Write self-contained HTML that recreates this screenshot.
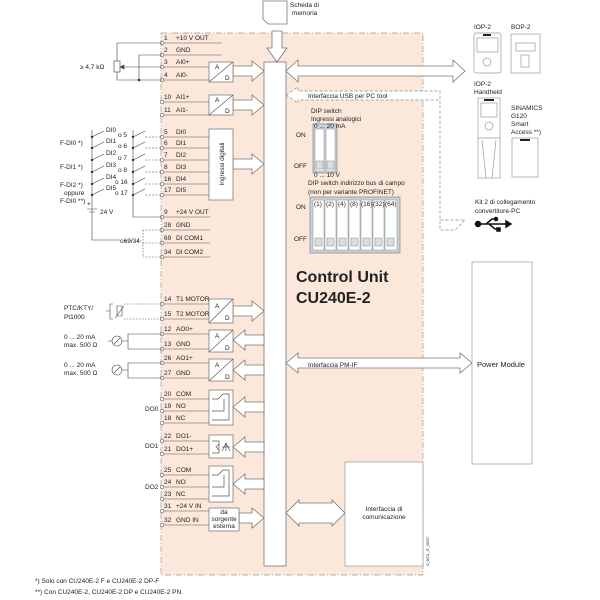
<!DOCTYPE html>
<html><head><meta charset="utf-8"><style>
html,body{margin:0;padding:0;background:#fff}
svg{display:block;font-family:"Liberation Sans",sans-serif}
text{font-size:6.5px;fill:#222}
</style></head><body>
<svg width="600" height="600" viewBox="0 0 600 600" xmlns="http://www.w3.org/2000/svg">
<rect x="161" y="33" width="262" height="542" fill="#fbe8da" stroke="#999" stroke-width="0.7" stroke-dasharray="6,2,1,2"/>
<!-- bus -->
<rect x="264" y="62" width="22" height="504" fill="#fff" stroke="#777" stroke-width="0.8"/>
<!-- memory card -->
<polygon points="263,1 287,1 287,24 268,24 263,19" fill="#fff" stroke="#777" stroke-width="0.8"/>
<text x="290" y="7">Scheda di</text><text x="292" y="15">memoria</text>
<polygon points="272,31 282,31 282,48 287,48 277,62 267,48 272,48" fill="#fff" stroke="#777" stroke-width="0.8"/>
<g fill="#fff" stroke="#777" stroke-width="0.8">
<!-- right arrows to bus -->
<polygon points="233,66 252,66 252,61 264,71 252,81 252,76 233,76"/>
<polygon points="233,100 252,100 252,95 264,105 252,115 252,110 233,110"/>
<polygon points="233,159 252,159 252,154 264,164 252,174 252,169 233,169"/>
<polygon points="233,306 252,306 252,301 264,311 252,321 252,316 233,316"/>
<polygon points="239,513 252,513 252,508 264,518 252,528 252,523 239,523"/>
<!-- left arrows -->
<polygon points="264,335 245,335 245,330 233,340 245,350 245,345 264,345"/>
<polygon points="264,365 245,365 245,360 233,370 245,380 245,375 264,375"/>
<polygon points="264,402 245,402 245,397 233,407 245,417 245,412 264,412"/>
<polygon points="264,442 245,442 245,437 233,447 245,457 245,452 264,452"/>
<polygon points="264,479 245,479 245,474 233,484 245,494 245,489 264,489"/>
<!-- double arrows -->
<polygon points="286,71 298,60 298,66 453,66 453,60 465,71 453,82 453,76 298,76 298,82"/>
<polygon points="286,363 298,353 298,358 460,358 460,353 472,363 460,373 460,368 298,368 298,373"/>
<polygon points="286,513 299,500 299,503 332,503 332,500 345,513 332,526 332,523 299,523 299,526"/>
</g>
<!-- dashed USB arrow -->
<polygon points="286,95 298,87 298,91 440,91 440,220 465,220 455,230 440,230 440,100 298,100 298,103" fill="#fff" stroke="#888" stroke-width="0.7" stroke-dasharray="3,2"/>
<text x="308" y="98">Interfaccia USB per PC tool</text>
<text x="308" y="367">Interfaccia PM-IF</text>
<!-- terminal lines -->
<g stroke="#555" stroke-width="0.6" fill="#fff">
<line x1="162" y1="43" x2="222" y2="43"/><line x1="162" y1="55" x2="222" y2="55"/>
<line x1="162" y1="67" x2="210" y2="67"/><line x1="162" y1="80" x2="210" y2="80"/>
<line x1="162" y1="102" x2="210" y2="102"/><line x1="162" y1="115" x2="210" y2="115"/>
<line x1="162" y1="137" x2="210" y2="137"/><line x1="162" y1="148" x2="210" y2="148"/>
<line x1="162" y1="160" x2="210" y2="160"/><line x1="162" y1="172" x2="210" y2="172"/>
<line x1="162" y1="184" x2="210" y2="184"/><line x1="162" y1="195" x2="210" y2="195"/>
<line x1="162" y1="217" x2="210" y2="217"/><line x1="162" y1="230" x2="210" y2="230"/>
<line x1="162" y1="243" x2="210" y2="243"/><line x1="162" y1="257" x2="210" y2="257"/>
<line x1="162" y1="304" x2="210" y2="304"/><line x1="162" y1="319" x2="210" y2="319"/>
<line x1="162" y1="334" x2="210" y2="334"/><line x1="162" y1="349" x2="210" y2="349"/>
<line x1="162" y1="363" x2="210" y2="363"/><line x1="162" y1="378" x2="210" y2="378"/>
<line x1="162" y1="399" x2="210" y2="399"/><line x1="162" y1="411" x2="210" y2="411"/>
<line x1="162" y1="423" x2="210" y2="423"/><line x1="162" y1="441" x2="210" y2="441"/>
<line x1="162" y1="454" x2="210" y2="454"/><line x1="162" y1="475" x2="210" y2="475"/>
<line x1="162" y1="487" x2="210" y2="487"/><line x1="162" y1="499" x2="210" y2="499"/>
<line x1="162" y1="511" x2="210" y2="511"/><line x1="162" y1="525" x2="210" y2="525"/>
<g>
<circle cx="162" cy="43" r="1.8"/><circle cx="162" cy="55" r="1.8"/><circle cx="162" cy="67" r="1.8"/><circle cx="162" cy="80" r="1.8"/>
<circle cx="162" cy="102" r="1.8"/><circle cx="162" cy="115" r="1.8"/><circle cx="162" cy="137" r="1.8"/><circle cx="162" cy="148" r="1.8"/>
<circle cx="162" cy="160" r="1.8"/><circle cx="162" cy="172" r="1.8"/><circle cx="162" cy="184" r="1.8"/><circle cx="162" cy="195" r="1.8"/>
<circle cx="162" cy="217" r="1.8"/><circle cx="162" cy="230" r="1.8"/><circle cx="162" cy="243" r="1.8"/><circle cx="162" cy="257" r="1.8"/>
<circle cx="162" cy="304" r="1.8"/><circle cx="162" cy="319" r="1.8"/><circle cx="162" cy="334" r="1.8"/><circle cx="162" cy="349" r="1.8"/>
<circle cx="162" cy="363" r="1.8"/><circle cx="162" cy="378" r="1.8"/><circle cx="162" cy="399" r="1.8"/><circle cx="162" cy="411" r="1.8"/>
<circle cx="162" cy="423" r="1.8"/><circle cx="162" cy="441" r="1.8"/><circle cx="162" cy="454" r="1.8"/><circle cx="162" cy="475" r="1.8"/>
<circle cx="162" cy="487" r="1.8"/><circle cx="162" cy="499" r="1.8"/><circle cx="162" cy="511" r="1.8"/><circle cx="162" cy="525" r="1.8"/>
</g>
<!-- boxes -->
<rect x="209" y="62" width="24" height="20"/><line x1="209" y1="82" x2="233" y2="62"/>
<rect x="209" y="95" width="24" height="20"/><line x1="209" y1="115" x2="233" y2="95"/>
<rect x="209" y="129" width="24" height="71"/>
<rect x="209" y="299" width="24" height="24"/><line x1="209" y1="323" x2="233" y2="299"/>
<rect x="209" y="330" width="24" height="22"/><line x1="209" y1="352" x2="233" y2="330"/>
<rect x="209" y="359" width="24" height="22"/><line x1="209" y1="381" x2="233" y2="359"/>
<rect x="209" y="390" width="24" height="35"/>
<rect x="209" y="435" width="24" height="23"/>
<rect x="209" y="466" width="24" height="36"/>
<rect x="209" y="508" width="30" height="23"/>
<rect x="345" y="462" width="78" height="104" stroke="#888"/>
<rect x="472" y="262" width="60" height="202" stroke="#888"/>
</g>
<!-- relay symbols -->
<g stroke="#555" stroke-width="0.7" fill="none">
<path d="M212,399 h6 l5,-5 h6 v26 h-17"/><path d="M212,411 h12 v-12"/>
<path d="M212,475 h6 l5,-5 h6 v26 h-17"/><path d="M212,487 h12 v-12"/>
<path d="M212,441 h7 v12 h-7 M219,444 l-3,3 l3,3 M222,447 h8 M226,443 v8 M222,451 l4,-8 l4,8"/>
</g>
<g font-size="6.5">
<text x="215" y="69">A</text><text x="225" y="80">D</text>
<text x="215" y="102">A</text><text x="225" y="113">D</text>
<text x="215" y="308">A</text><text x="225" y="320">D</text>
<text x="215" y="338">A</text><text x="225" y="350">D</text>
<text x="215" y="367">A</text><text x="225" y="379">D</text>
<text x="224" y="514" text-anchor="middle">da</text><text x="224" y="521" text-anchor="middle">sorgente</text><text x="224" y="528" text-anchor="middle">esterna</text>
<text transform="translate(224,164) rotate(-90)" text-anchor="middle">Ingressi digitali</text>
<!-- terminal labels -->
<text x="164" y="40">1</text><text x="176" y="40">+10 V OUT</text>
<text x="164" y="52">2</text><text x="176" y="52">GND</text>
<text x="164" y="64">3</text><text x="176" y="64">AI0+</text>
<text x="164" y="77">4</text><text x="176" y="77">AI0-</text>
<text x="164" y="99">10</text><text x="176" y="99">AI1+</text>
<text x="164" y="112">11</text><text x="176" y="112">AI1-</text>
<text x="164" y="134">5</text><text x="176" y="134">DI0</text>
<text x="164" y="145">6</text><text x="176" y="145">DI1</text>
<text x="164" y="157">7</text><text x="176" y="157">DI2</text>
<text x="164" y="169">8</text><text x="176" y="169">DI3</text>
<text x="164" y="181">16</text><text x="176" y="181">DI4</text>
<text x="164" y="192">17</text><text x="176" y="192">DI5</text>
<text x="164" y="214">9</text><text x="176" y="214">+24 V OUT</text>
<text x="164" y="227">28</text><text x="176" y="227">GND</text>
<text x="164" y="240">69</text><text x="176" y="240">DI COM1</text>
<text x="164" y="254">34</text><text x="176" y="254">DI COM2</text>
<text x="164" y="301">14</text><text x="176" y="301">T1 MOTOR</text>
<text x="164" y="316">15</text><text x="176" y="316">T2 MOTOR</text>
<text x="164" y="331">12</text><text x="176" y="331">AO0+</text>
<text x="164" y="346">13</text><text x="176" y="346">GND</text>
<text x="164" y="360">26</text><text x="176" y="360">AO1+</text>
<text x="164" y="375">27</text><text x="176" y="375">GND</text>
<text x="164" y="396">20</text><text x="176" y="396">COM</text>
<text x="164" y="408">19</text><text x="176" y="408">NO</text>
<text x="164" y="420">18</text><text x="176" y="420">NC</text>
<text x="164" y="438">22</text><text x="176" y="438">DO1-</text>
<text x="164" y="451">21</text><text x="176" y="451">DO1+</text>
<text x="164" y="472">25</text><text x="176" y="472">COM</text>
<text x="164" y="484">24</text><text x="176" y="484">NO</text>
<text x="164" y="496">23</text><text x="176" y="496">NC</text>
<text x="164" y="508">31</text><text x="176" y="508">+24 V IN</text>
<text x="164" y="522">32</text><text x="176" y="522">GND IN</text>
<text x="145" y="411">DO0</text><text x="145" y="448">DO1</text><text x="145" y="489">DO2</text>
</g>
<!-- left wiring -->
<g stroke="#444" stroke-width="0.6" fill="none">
<path d="M162,43 H117 V61 M117,71 V80 H162 M162,55 H139 V80"/>
<rect x="114" y="61" width="6" height="11" fill="#fff"/>
<path d="M162,67 H122"/><polygon points="120,67 124,65 124,69" fill="#444"/>
<path d="M92,130 V240 H120" /><path d="M133,130 V217 H162"/>
<path d="M92,137 l12,-6 M92,148 l12,-6 M92,160 l12,-6 M92,172 l12,-6 M92,184 l12,-6 M92,195 l12,-6"/>
<path d="M133,137 l12,-6 M133,148 l12,-6 M133,160 l12,-6 M133,172 l12,-6 M133,184 l12,-6 M133,195 l12,-6"/>
<path d="M145,137 H162 M145,148 H162 M145,160 H162 M145,172 H162 M145,184 H162 M145,195 H162" stroke-dasharray="2,1.5"/>
<path d="M143,230 H162 M143,230 V257 H162 M143,243 H162 M125,241 H143" stroke-dasharray="1.5,1.5"/>
<path d="M87,209 h10 M89,212 h6"/>
<path d="M113,304 h-3 v15 h3 M110,311 h-4 M117,306 v10 h5 v-10 z M115,318 l9,-12"/>
<circle cx="117" cy="341" r="5"/><path d="M114,344 l6,-6"/><path d="M122,341 H128 V334 H162 M128,341 V349 H162 M112,341 H108"/>
<circle cx="117" cy="370" r="5"/><path d="M114,373 l6,-6"/><path d="M122,370 H128 V363 H162 M128,370 V378 H162"/>
<path d="M124,304 H162 M124,319 H162" stroke-dasharray="1.5,1.5"/>
</g>
<g fill="#333"><circle cx="139" cy="80" r="1.3"/>
<circle cx="92" cy="137" r="1.2"/><circle cx="92" cy="148" r="1.2"/><circle cx="92" cy="160" r="1.2"/><circle cx="92" cy="172" r="1.2"/><circle cx="92" cy="184" r="1.2"/><circle cx="92" cy="195" r="1.2"/>
<circle cx="133" cy="137" r="1.2"/><circle cx="133" cy="148" r="1.2"/><circle cx="133" cy="160" r="1.2"/><circle cx="133" cy="172" r="1.2"/><circle cx="133" cy="184" r="1.2"/><circle cx="133" cy="195" r="1.2"/></g>
<g font-size="6">
<text x="80" y="69">≥ 4,7 kΩ</text>
<text x="106" y="132">DI0</text><text x="118" y="137">o 5</text>
<text x="106" y="143">DI1</text><text x="118" y="148">o 6</text>
<text x="106" y="155">DI2</text><text x="118" y="160">o 7</text>
<text x="106" y="167">DI3</text><text x="118" y="172">o 8</text>
<text x="106" y="179">DI4</text><text x="115" y="184">o 16</text>
<text x="106" y="190">DI5</text><text x="115" y="195">o 17</text>
<text x="60" y="145">F-DI0 *)</text><text x="60" y="169">F-DI1 *)</text>
<text x="60" y="187">F-DI2 *)</text><text x="64" y="195">oppure</text><text x="60" y="203">F-DI0 **)</text>
<text x="87" y="206">+</text><text x="100" y="214">24 V</text>
<text x="120" y="243">o69/34</text>
<text x="64" y="310">PTC/KTY/</text><text x="64" y="319">Pt1000</text>
<text x="64" y="339">0 ... 20 mA</text><text x="64" y="347">max. 500 Ω</text>
<text x="64" y="367">0 ... 20 mA</text><text x="64" y="375">max. 500 Ω</text>
</g>
<!-- DIP switches -->
<g font-size="6">
<text x="311" y="113">DIP switch</text><text x="311" y="121">Ingressi analogici</text>
<text x="296" y="137">ON</text><text x="294" y="168">OFF</text>
<text x="308" y="185">DIP switch indirizzo bus di campo</text><text x="308" y="194">(non per variante PROFINET)</text>
<text x="296" y="209">ON</text><text x="294" y="241">OFF</text>
<text x="474" y="29">IOP-2</text><text x="511" y="29">BOP-2</text>
<text x="474" y="86">IOP-2</text><text x="474" y="94">Handheld</text>
<text x="511" y="110">SINAMICS</text><text x="511" y="118">G120</text><text x="511" y="126">Smart</text><text x="511" y="134">Access **)</text>
<text x="475" y="204">Kit 2 di collegamento</text><text x="475" y="213">convertitore-PC</text>
<text x="35" y="583">*) Solo con CU240E-2 F e CU240E-2 DP-F</text>
<text x="35" y="594">**) Con CU240E-2, CU240E-2 DP e CU240E-2 PN.</text>
</g>
<rect x="313" y="124" width="24" height="49" fill="#c8d4dc" stroke="#777" stroke-width="0.6"/>
<rect x="315" y="129" width="9" height="42" fill="#fff" stroke="#888" stroke-width="0.5"/>
<rect x="326" y="129" width="9" height="42" fill="#fff" stroke="#888" stroke-width="0.5"/>
<rect x="316" y="161" width="7" height="8" fill="#ddd" stroke="#888" stroke-width="0.5"/>
<rect x="327" y="161" width="7" height="8" fill="#ddd" stroke="#888" stroke-width="0.5"/>
<rect x="310" y="197" width="90" height="56" fill="#c8d4dc" stroke="#777" stroke-width="0.6"/>
<g fill="#fff" stroke="#888" stroke-width="0.5">
<rect x="313" y="200" width="11" height="50"/><rect x="325" y="200" width="11" height="50"/><rect x="337" y="200" width="11" height="50"/><rect x="349" y="200" width="11" height="50"/><rect x="361" y="200" width="11" height="50"/><rect x="373" y="200" width="11" height="50"/><rect x="385" y="200" width="12" height="50"/>
</g>
<g fill="#ddd" stroke="#888" stroke-width="0.5">
<rect x="315" y="238" width="7" height="8"/><rect x="327" y="238" width="7" height="8"/><rect x="339" y="238" width="7" height="8"/><rect x="351" y="238" width="7" height="8"/><rect x="363" y="238" width="7" height="8"/><rect x="375" y="238" width="7" height="8"/><rect x="387" y="238" width="7" height="8"/>
</g>
<g font-size="4"><text x="314" y="206">(1)</text><text x="326" y="206">(2)</text><text x="338" y="206">(4)</text><text x="350" y="206">(8)</text><text x="361" y="206">(16)</text><text x="373" y="206">(32)</text><text x="385" y="206">(64)</text>
<text x="314" y="128">0 ... 20 mA</text><text x="314" y="177">0 ... 10 V</text></g>
<text x="296" y="282" style="font-size:16px;font-weight:bold">Control Unit</text>
<text x="296" y="303" style="font-size:16px;font-weight:bold">CU240E-2</text>
<text x="477" y="367" style="font-size:7.5px">Power Module</text>
<text x="384" y="511" text-anchor="middle">Interfaccia di</text><text x="384" y="519" text-anchor="middle">comunicazione</text>
<text transform="translate(429,566) rotate(-90)" style="font-size:3.5px">G_D011_IT_00397</text>
<!-- devices -->
<g fill="#fff" stroke="#999" stroke-width="0.7">
<rect x="474" y="33" width="27" height="40" rx="2"/><rect x="477" y="38" width="21" height="14"/><circle cx="487" cy="62" r="4"/>
<rect x="511" y="34" width="29" height="39"/><rect x="516" y="43" width="19" height="8"/><rect x="521" y="55" width="8" height="12"/>
<rect x="478" y="98" width="22" height="80"/><rect x="481" y="103" width="16" height="14"/><circle cx="489" cy="126" r="4"/><path d="M482,140 L486,178 M496,140 L492,178 M478,138 H500"/>
<rect x="512" y="138" width="26" height="39"/>
</g>
<g stroke="#111" fill="#111" stroke-width="1.5"><circle cx="478" cy="224" r="2.5"/><path d="M478,224 H506 M486,224 l6,-5 h3 M489,224 l6,5 h2" fill="none"/><polygon points="506,221 511,224 506,227"/><circle cx="496" cy="219" r="1.5"/><rect x="497" y="228" width="3" height="3"/></g>
<g fill="#222"><rect x="483" y="34" width="8" height="2"/><rect x="484" y="99" width="10" height="2"/><rect x="520" y="139" width="10" height="2"/></g>
</svg>
</body></html>
